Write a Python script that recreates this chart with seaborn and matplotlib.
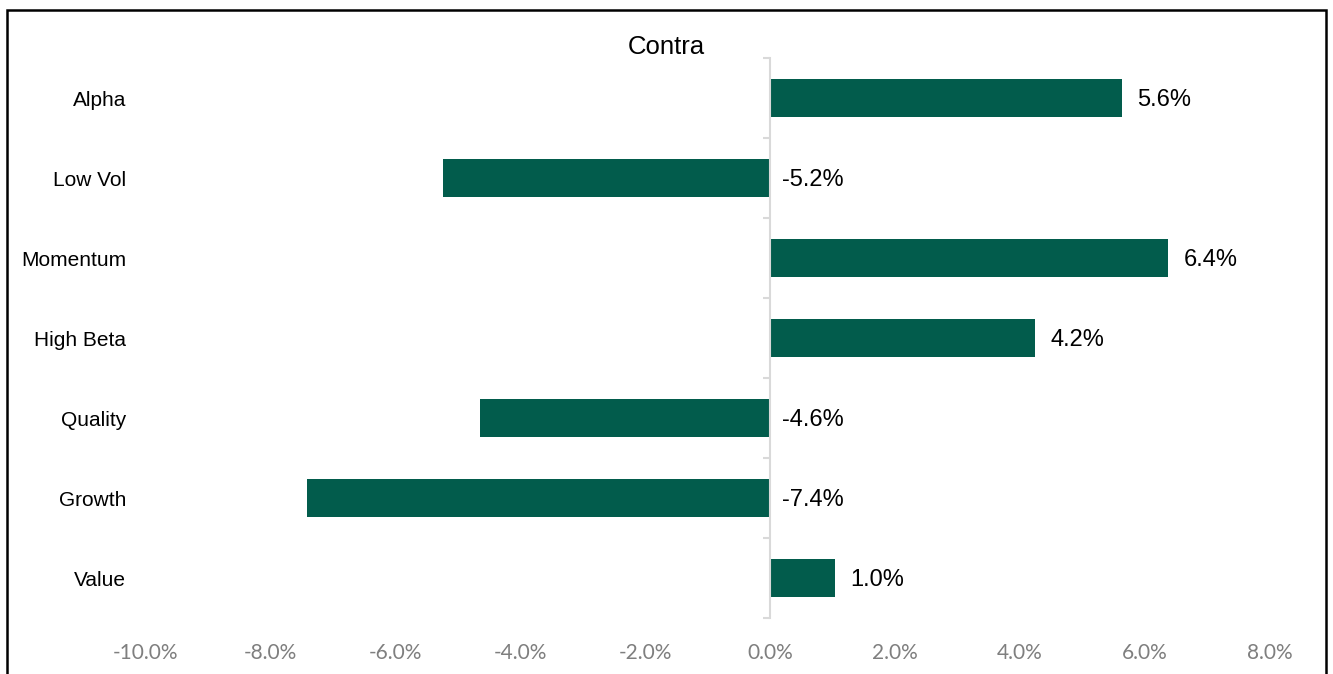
import seaborn as sns
import matplotlib.pyplot as plt
from matplotlib.patches import Rectangle
from matplotlib.ticker import FuncFormatter

# data (in %)
factors = ["Alpha", "Low Vol", "Momentum", "High Beta", "Quality", "Growth", "Value"]
values = [5.63, -5.23, 6.37, 4.24, -4.64, -7.41, 1.04]
xticks = [-10, -8, -6, -4, -2, 0, 2, 4, 6, 8]

bar_color = "#025C4C"
axis_gray = "#D9D9D9"
tick_gray = "#7F7F7F"

sns.set_theme(style="white")
plt.rcParams["font.family"] = ["Liberation Sans", "DejaVu Sans"]

fig = plt.figure(figsize=(13.33, 6.74), dpi=100)
ax = fig.add_axes([145 / 1333, 1 - 618 / 674, (1270 - 145) / 1333, (618 - 58) / 674])

sns.barplot(x=values, y=factors, orient="h", color=bar_color, width=0.47,
            saturation=1, linewidth=0, ax=ax)

xmin, xmax = -10, 8
ax.set_xlim(xmin, xmax)
ax.set_ylim(len(factors) - 0.5, -0.5)
ax.set_xticks(xticks)
ax.xaxis.set_major_formatter(FuncFormatter(lambda v, p: f"{v:.1f}%"))
for lab in ax.get_xticklabels():
    lab.set_fontfamily(["Lato", "DejaVu Sans"])
ax.tick_params(axis="x", length=0, labelsize=15, labelcolor=tick_gray, pad=18)
ax.tick_params(axis="y", length=0, labelsize=15, labelcolor="black", pad=13.5)
ax.set_xlabel("")
ax.set_ylabel("")
for s in ax.spines.values():
    s.set_visible(False)

# zero axis with category boundary ticks
loc0 = (0 - xmin) / (xmax - xmin)
sec = ax.secondary_yaxis(loc0)
sec.set_alignment("left")
sec.set_zorder(ax.get_zorder() + 1)
for s in sec.spines.values():
    s.set_color(axis_gray)
    s.set_linewidth(1.5)
sec.set_yticks([i - 0.5 for i in range(len(factors) + 1)])
sec.set_yticklabels([])
sec.tick_params(axis="y", length=5, width=1.5, color=axis_gray,
                left=True, right=False, labelleft=False, labelright=False)

# value labels
for i, v in enumerate(values):
    ax.annotate(f"{v:.1f}%", xy=(max(v, 0), i), xytext=(11 if v > 0 else 8.5, -1.5),
                textcoords="offset points", ha="left", va="center",
                fontsize=17, color="black")

fig.text(0.5, 1 - 47 / 674, "Contra", ha="center", va="center", fontsize=18.5,
         color="black")

# outer frame
fig.patches.append(Rectangle((7 / 1333, -0.05), (1326 - 7) / 1333, 1.05 - 10 / 674,
                             transform=fig.transFigure, fill=False,
                             edgecolor="black", linewidth=1.8, clip_on=False))

fig.savefig("out.png", dpi=100)
